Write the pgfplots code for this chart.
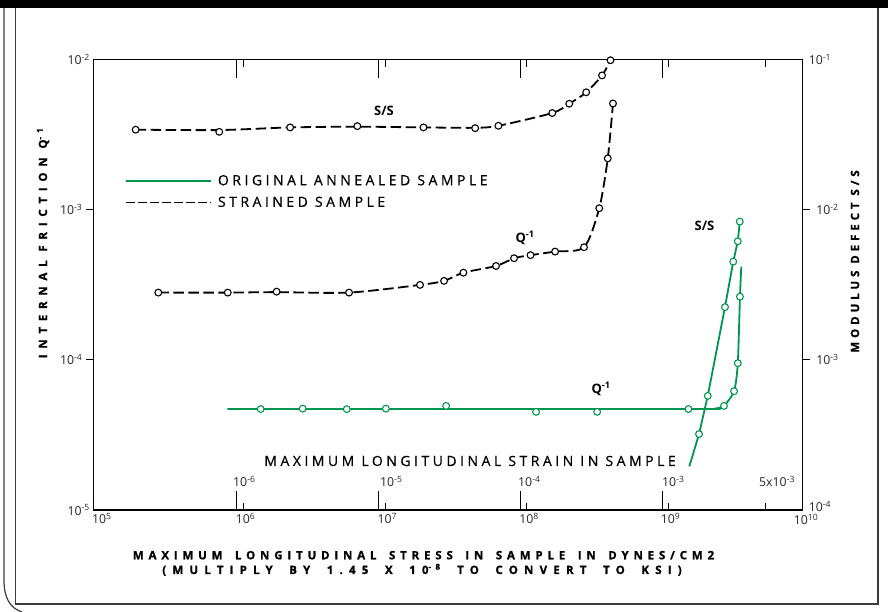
\documentclass[border=0pt]{standalone}
\usepackage{pgfplots}
\pgfplotsset{compat=1.18}
\usepackage{fontspec}
\setmainfont{Open Sans}
\newfontfamily\regspaced[LetterSpace=25, FakeBold=0.6]{Open Sans}
\newfontfamily\boldspaced[LetterSpace=42, WordSpace=1.6, BoldFeatures={FakeBold=1}]{Open Sans}
\newfontfamily\boldspacedwide[LetterSpace=54, WordSpace=1.8, BoldFeatures={FakeBold=1}]{Open Sans}
\newfontfamily\boldwide[LetterSpace=50, BoldFeatures={FakeBold=1}]{Open Sans}
\newfontfamily\boldside[LetterSpace=34, BoldFeatures={FakeBold=1}]{Open Sans}

\definecolor{annealgreen}{RGB}{0,150,80}
\definecolor{framegray}{RGB}{60,60,60}
\definecolor{tallgray}{RGB}{110,110,110}
\definecolor{labelgray}{RGB}{40,40,40}

\newcommand{\tickfont}{\fontsize{12.3bp}{14bp}\selectfont}
\newcommand{\titlefont}{\boldspaced\bfseries\fontsize{11.5bp}{13bp}\selectfont}
\newcommand{\subtitlefont}{\boldspacedwide\bfseries\fontsize{11.5bp}{13bp}\selectfont}
\newcommand{\legfont}{\regspaced\fontsize{14bp}{16bp}\selectfont}
\newcommand{\notefont}{\bfseries\fontsize{13bp}{15bp}\selectfont}

\begin{document}
\begin{tikzpicture}
\begin{scope}[x=1bp,y=1bp]
  \path[use as bounding box] (0,0) rectangle (888,612);
  % page frame
  \fill[black] (0,604) rectangle (888,612);
  \draw[framegray, line width=1.2bp] (4,604) -- (4,32) .. controls (4,14) and (10,4) .. (22,0);
  \draw[framegray, line width=1.2bp] (15.5,604) -- (15.5,8) -- (878,8) -- (878,604);
\end{scope}

% internal friction (left scale)
\begin{axis}[
  at={(93.3bp,102bp)}, anchor=south west,
  scale only axis, width=709bp, height=450.7bp,
  xmode=log, ymode=log,
  xmin=8.69e4, xmax=8.79e9,
  ymin=1e-5, ymax=1e-2,
  xminorticks=false, yminorticks=false,
  clip=false,
  tick label style={font=\tickfont, text=labelgray},
  major tick length=7.5bp,
  axis line style={line width=1.3bp},
  xtick={1e6,1e7,1e8,1e9,4.85e9}, xticklabels={},
  xtick align=inside, xtick pos=both,
  x tick style={line width=1bp, black},
  extra x ticks={8.84e5,8.93e6,8.98e7,9.04e8},
  extra x tick labels={},
  extra x tick style={major tick length=19bp, major tick style={line width=1.5bp, draw=tallgray}},
  ytick={1e-4,1e-3},
  yticklabels={10\textsuperscript{-4},10\textsuperscript{-3}},
  ytick align=outside, ytick pos=left,
  y tick style={line width=1bp, black},
  extra y ticks={1e-5,1e-2},
  extra y tick labels={10\textsuperscript{-5},10\textsuperscript{-2}},
  extra y tick style={major tick length=0pt},
  legend cell align=left,
  legend image code/.code={\draw[#1] (0bp,0bp) -- (85bp,0bp);},
  legend style={draw=none, fill=none, inner sep=0pt, row sep=6bp,
    column sep=4bp, font=\legfont,
    at={(0.0447,0.748)}, anchor=north west},
]
\addlegendimage{annealgreen, line width=1.8bp}
\addlegendentry{ORIGINAL ANNEALED SAMPLE}
\addlegendimage{black, line width=1.8bp, dash pattern=on 8.5bp off 3.5bp}
\addlegendentry{STRAINED SAMPLE}

% strained sample, Q^-1
\addplot[black, line width=1.8bp, dash pattern=on 10.5bp off 4.5bp, smooth, tension=0.45, forget plot] coordinates {
  (2.50e5,2.80e-4) (7.73e5,2.80e-4) (1.71e6,2.82e-4) (5.55e6,2.80e-4)
  (1.76e7,3.15e-4) (2.60e7,3.35e-4) (3.56e7,3.80e-4) (6.05e7,4.21e-4)
  (8.11e7,4.74e-4) (1.06e8,4.97e-4) (1.58e8,5.25e-4) (2.53e8,5.61e-4)
  (3.24e8,1.02e-3) (3.72e8,2.19e-3) (4.05e8,5.08e-3)};
\addplot[only marks, mark=*, mark size=3.4bp, mark options={solid, fill=white, draw=black, line width=1.1bp}, forget plot] coordinates {
  (2.50e5,2.80e-4) (7.73e5,2.80e-4) (1.71e6,2.84e-4) (5.55e6,2.80e-4)
  (1.76e7,3.15e-4) (2.60e7,3.35e-4) (3.56e7,3.80e-4) (6.05e7,4.21e-4)
  (8.11e7,4.74e-4) (1.06e8,4.97e-4) (1.58e8,5.25e-4) (2.53e8,5.61e-4)
  (3.24e8,1.02e-3) (3.72e8,2.19e-3) (4.05e8,5.08e-3)};

% annealed sample, Q^-1
\addplot[annealgreen, line width=1.8bp, smooth, tension=0.4, forget plot] coordinates {
  (7.68e5,4.70e-5) (1.38e9,4.70e-5) (2.16e9,4.75e-5) (2.46e9,4.93e-5)
  (2.90e9,6.18e-5) (3.08e9,9.49e-5) (3.19e9,2.63e-4) (3.26e9,4.17e-4)};
\addplot[only marks, mark=*, mark size=3.4bp, mark options={solid, fill=white, draw=annealgreen, line width=1.1bp}, forget plot] coordinates {
  (1.32e6,4.70e-5) (2.61e6,4.73e-5) (5.35e6,4.69e-5) (1.01e7,4.73e-5)
  (2.69e7,4.93e-5) (1.16e8,4.50e-5) (3.13e8,4.50e-5) (1.38e9,4.70e-5)
  (2.46e9,4.93e-5) (2.90e9,6.18e-5) (3.08e9,9.49e-5) (3.19e9,2.63e-4)};
\end{axis}

% modulus defect (right scale)
\begin{axis}[
  at={(93.3bp,102bp)}, anchor=south west,
  scale only axis, width=709bp, height=450.7bp,
  xmode=log, ymode=log,
  xmin=8.69e4, xmax=8.79e9,
  ymin=1e-4, ymax=1e-1,
  xminorticks=false, yminorticks=false,
  clip=false,
  tick label style={font=\tickfont, text=labelgray},
  yticklabel style={xshift=3bp},
  major tick length=7.5bp,
  axis x line=none, axis y line*=right,
  axis line style={draw=none},
  ytick={1e-3,1e-2},
  yticklabels={10\textsuperscript{-3},10\textsuperscript{-2}},
  ytick align=outside, ytick pos=right,
  y tick style={line width=1bp, black},
  extra y ticks={1e-4,1e-1},
  extra y tick labels={\raisebox{7bp}{10\textsuperscript{-4}},10\textsuperscript{-1}},
  extra y tick style={major tick length=0pt},
]
% strained sample, S/S
\addplot[black, line width=1.8bp, dash pattern=on 10.5bp off 4.5bp, smooth, tension=0.45] coordinates {
  (1.73e5,3.40e-2) (6.73e5,3.38e-2) (2.13e6,3.52e-2) (6.35e6,3.56e-2)
  (1.86e7,3.52e-2) (4.31e7,3.50e-2) (6.29e7,3.61e-2) (1.51e8,4.39e-2)
  (1.99e8,5.06e-2) (2.62e8,6.03e-2) (3.39e8,7.81e-2) (3.89e8,9.86e-2)};
\addplot[only marks, mark=*, mark size=3.4bp, mark options={solid, fill=white, draw=black, line width=1.1bp}] coordinates {
  (1.73e5,3.40e-2) (6.73e5,3.29e-2) (2.13e6,3.52e-2) (6.35e6,3.59e-2)
  (1.86e7,3.52e-2) (4.31e7,3.48e-2) (6.29e7,3.61e-2) (1.51e8,4.39e-2)
  (1.99e8,5.06e-2) (2.62e8,6.03e-2) (3.39e8,7.81e-2) (3.89e8,9.86e-2)};

% annealed sample, S/S
\addplot[annealgreen, line width=1.8bp] coordinates {
  (1.40e9,1.95e-4) (1.64e9,3.20e-4) (1.89e9,5.75e-4) (2.50e9,2.24e-3)
  (2.86e9,4.50e-3) (3.08e9,6.15e-3) (3.18e9,8.31e-3)};
\addplot[only marks, mark=*, mark size=3.4bp, mark options={solid, fill=white, draw=annealgreen, line width=1.1bp}] coordinates {
  (1.64e9,3.20e-4) (1.89e9,5.75e-4) (2.50e9,2.24e-3)
  (2.86e9,4.50e-3) (3.08e9,6.15e-3) (3.18e9,8.31e-3)};
\end{axis}

\begin{scope}[x=1bp,y=1bp]
  % stress tick labels
  \foreach \px/\e in {101.9/5,245.6/6,387.3/7,529/8,670.6/9}
    \node[anchor=north, inner sep=0pt, font=\tickfont, text=labelgray] at (\px,99) {10\textsuperscript{\e}};
  \node[anchor=north, inner sep=0pt, font=\tickfont, text=labelgray] at (806,98) {10\textsuperscript{10}};
  % strain scale
  \node[anchor=base, inner sep=0pt, font=\legfont] at (470,146) {MAXIMUM LONGITUDINAL STRAIN IN SAMPLE};
  \foreach \px/\lab in {233/10\textsuperscript{-6},380/10\textsuperscript{-5},518/10\textsuperscript{-4},662/10\textsuperscript{-3},759/5x10\textsuperscript{-3}}
    \node[anchor=base west, inner sep=0pt, font=\tickfont, text=labelgray] at (\px,125) {\lab};
  % axis titles
  \node[anchor=base, inner sep=0pt, font=\titlefont] at (423.5,52.7) {MAXIMUM LONGITUDINAL STRESS IN SAMPLE IN DYNES/CM2};
  \node[anchor=base, inner sep=0pt, font=\subtitlefont] at (422,38) {(MULTIPLY BY 1.45 X 10\textsuperscript{-8} TO CONVERT TO KSI)};
  \node[rotate=90, inner sep=0pt, font=\boldwide\bfseries\fontsize{11.5bp}{13bp}\selectfont] at (43,369) {INTERNAL FRICTION Q\textsuperscript{-1}};
  \node[rotate=90, inner sep=0pt, font=\boldside\bfseries\fontsize{11.5bp}{13bp}\selectfont] at (855,350.5) {MODULUS DEFECT S/S};
  % curve annotations
  \node[font=\notefont, inner sep=0pt] at (384,501) {S/S};
  \node[font=\notefont, inner sep=0pt] at (525,374) {Q\textsuperscript{-1}};
  \node[font=\notefont, inner sep=0pt] at (704.5,386) {S/S};
  \node[font=\notefont, inner sep=0pt] at (601,223) {Q\textsuperscript{-1}};
\end{scope}
\end{tikzpicture}
\end{document}
